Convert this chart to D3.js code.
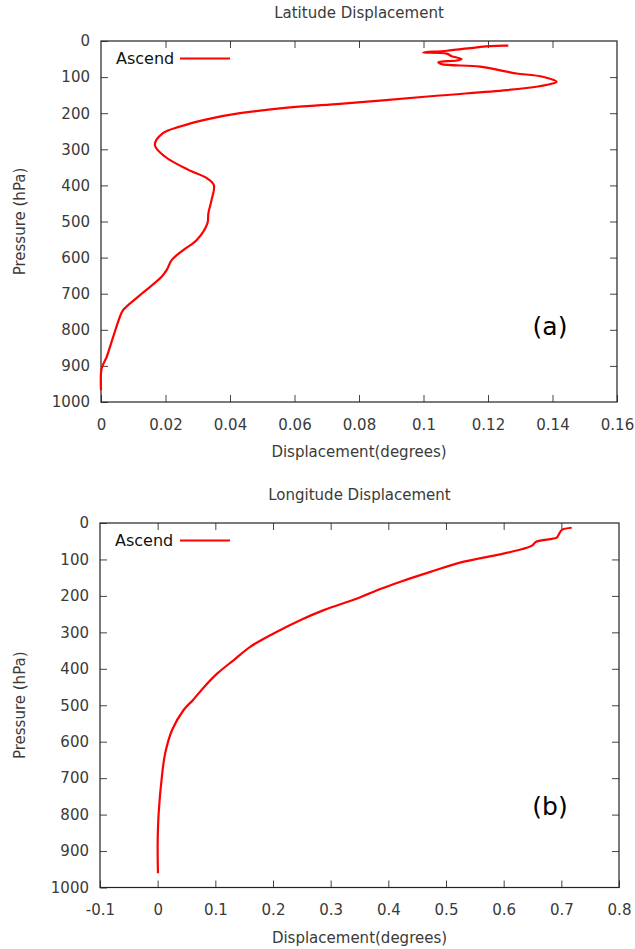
<!DOCTYPE html>
<html>
<head>
<meta charset="utf-8">
<script src="https://cdn.jsdelivr.net/npm/d3@7"></script>
<style>
  body { margin: 0; background: #fff; }
  svg text { font-family: "DejaVu Sans", sans-serif; }
</style>
</head>
<body>
<svg id="chart"></svg>
<script>
// pressure levels (hPa) and displacement (degrees)
const latPressure = [13, 14, 27, 32, 35, 42, 50, 54, 59, 64, 71, 85, 90, 99, 113, 117, 126, 136, 151, 165, 174, 184, 200, 217, 237, 256, 288, 320, 357, 380, 399, 440, 477, 505, 551, 579, 607, 634, 653, 704, 745, 768, 819, 874, 907, 967];
const latDisp = [0.1263, 0.1206, 0.1072, 0.0999, 0.1072, 0.1087, 0.1118, 0.1103, 0.1046, 0.1056, 0.1175, 0.1258, 0.1289, 0.137, 0.1413, 0.1403, 0.1355, 0.1258, 0.105, 0.0865, 0.0741, 0.0586, 0.0431, 0.0328, 0.0245, 0.0191, 0.0167, 0.0198, 0.0271, 0.0328, 0.035, 0.0343, 0.0333, 0.033, 0.0297, 0.0255, 0.0219, 0.0204, 0.0188, 0.0121, 0.0069, 0.0057, 0.0038, 0.0018, 0.0002, 0];

const lonPressure = [13, 19, 33, 40, 51, 62, 68, 86, 106, 134, 161, 181, 207, 239, 266, 303, 339, 376, 412, 449, 486, 513, 568, 632, 696, 797, 879, 961];
const lonDisp = [0.718, 0.701, 0.695, 0.692, 0.657, 0.649, 0.64, 0.594, 0.531, 0.473, 0.421, 0.386, 0.346, 0.288, 0.248, 0.201, 0.161, 0.132, 0.104, 0.081, 0.061, 0.045, 0.025, 0.013, 0.0073, 0.0017, 0, 0.0005];

const pressureTicks = [0, 100, 200, 300, 400, 500, 600, 700, 800, 900, 1000];
const latTicks = [0, 0.02, 0.04, 0.06, 0.08, 0.1, 0.12, 0.14, 0.16];
const lonTicks = [-0.1, 0, 0.1, 0.2, 0.3, 0.4, 0.5, 0.6, 0.7, 0.8];

const svg = d3.select("#chart").attr("width", 635).attr("height", 949);

function drawPanel(cfg) {
  const x = d3.scaleLinear().domain(cfg.xDomain).range([cfg.left, cfg.right]);
  const y = d3.scaleLinear().domain([0, 1000]).range([cfg.top, cfg.bottom]);
  const g = svg.append("g");
  const tickLen = 7;

  // left axis (labels), right mirror ticks
  g.append("g")
    .attr("transform", `translate(${cfg.left},0)`)
    .call(d3.axisLeft(y).tickValues(pressureTicks).tickSize(-tickLen).tickPadding(11).tickFormat(d3.format("d")))
    .call(a => a.select(".domain").remove());
  g.append("g")
    .attr("transform", `translate(${cfg.right},0)`)
    .call(d3.axisRight(y).tickValues(pressureTicks.slice(1, -1)).tickSize(-tickLen).tickFormat(""))
    .call(a => a.select(".domain").remove());

  // bottom axis (labels), top mirror ticks
  g.append("g")
    .attr("transform", `translate(0,${cfg.bottom})`)
    .call(d3.axisBottom(x).tickValues(cfg.xTicks).tickSize(-tickLen).tickPadding(17).tickFormat(d => String(+d.toFixed(2))))
    .call(a => a.select(".domain").remove());
  g.append("g")
    .attr("transform", `translate(0,${cfg.top})`)
    .call(d3.axisTop(x).tickValues(cfg.xTicks.slice(1, -1)).tickSize(-tickLen).tickFormat(""))
    .call(a => a.select(".domain").remove());

  g.selectAll(".tick line").attr("stroke", "#444");
  g.selectAll(".tick text").attr("font-size", 15).attr("fill", "#3a3a3a")
    .attr("font-family", "DejaVu Sans");

  g.append("rect")
    .attr("x", cfg.left).attr("y", cfg.top)
    .attr("width", cfg.right - cfg.left).attr("height", cfg.bottom - cfg.top)
    .attr("fill", "none").attr("stroke", "#222").attr("stroke-width", 1.2);

  // curve
  const pts = cfg.pressure.map((p, i) => [cfg.disp[i], p]);
  g.append("path")
    .datum(pts)
    .attr("fill", "none")
    .attr("stroke", "#ff0000")
    .attr("stroke-width", 2.2)
    .attr("stroke-linejoin", "round")
    .attr("d", d3.line().x(d => x(d[0])).y(d => y(d[1])).curve(d3.curveCatmullRom.alpha(0.5)));

  // legend
  g.append("text").attr("x", cfg.left + 15).attr("y", cfg.top + 23)
    .attr("font-family", "Liberation Sans, Arial").attr("font-size", 16).attr("fill", "#111")
    .text("Ascend");
  g.append("line")
    .attr("x1", 180).attr("x2", 230)
    .attr("y1", cfg.top + 17.5).attr("y2", cfg.top + 17.5)
    .attr("stroke", "#ff0000").attr("stroke-width", 2.2);

  // titles
  const cx = (cfg.left + cfg.right) / 2;
  g.append("text").attr("x", cx).attr("y", cfg.top - 23)
    .attr("text-anchor", "middle").attr("font-size", 15).attr("fill", "#3a3a3a")
    .text(cfg.title);
  g.append("text").attr("x", cx).attr("y", cfg.bottom + 55)
    .attr("text-anchor", "middle").attr("font-size", 15).attr("fill", "#3a3a3a")
    .text("Displacement(degrees)");
  g.append("text")
    .attr("transform", `translate(25,${(cfg.top + cfg.bottom) / 2}) rotate(-90)`)
    .attr("text-anchor", "middle").attr("font-size", 15).attr("fill", "#3a3a3a")
    .text("Pressure (hPa)");

  // panel tag
  g.append("text").attr("x", 550).attr("y", cfg.tagY)
    .attr("text-anchor", "middle")
    .attr("font-family", "Open Sans, Liberation Sans").attr("font-size", 25).attr("fill", "#000")
    .text(cfg.tag);
}

drawPanel({
  left: 101, right: 617, top: 41, bottom: 402,
  xDomain: [0, 0.16], xTicks: latTicks,
  pressure: latPressure, disp: latDisp,
  title: "Latitude Displacement", tag: "(a)", tagY: 335
});

drawPanel({
  left: 100, right: 619, top: 523, bottom: 887.5,
  xDomain: [-0.1, 0.8], xTicks: lonTicks,
  pressure: lonPressure, disp: lonDisp,
  title: "Longitude Displacement", tag: "(b)", tagY: 815
});
</script>
</body>
</html>
